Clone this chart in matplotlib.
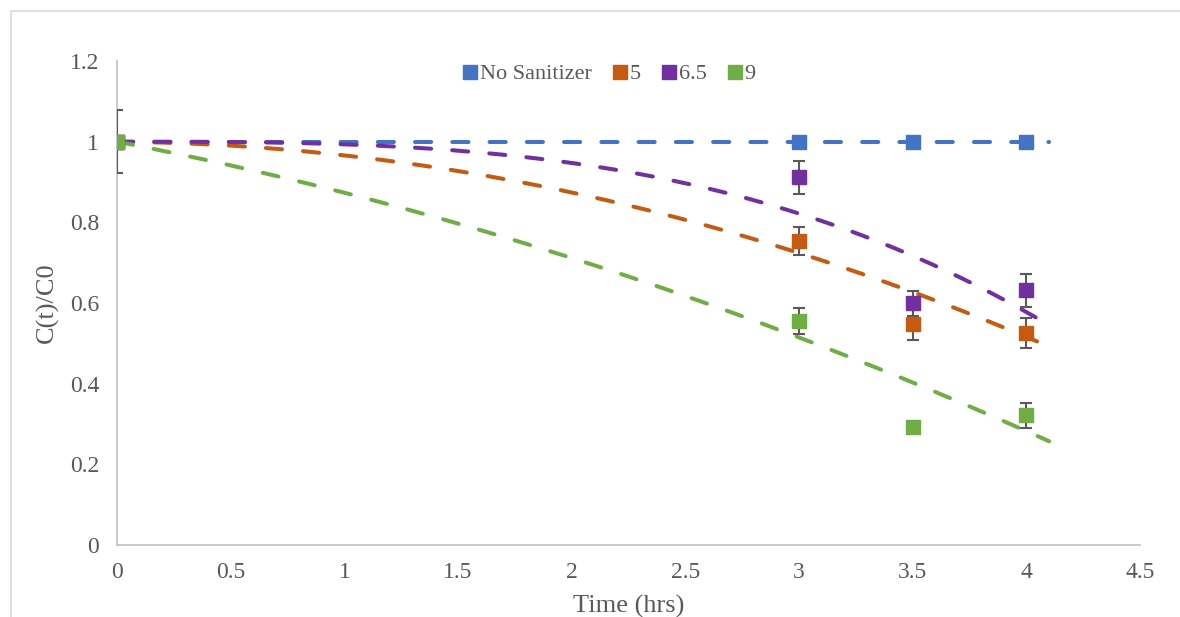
import matplotlib.pyplot as plt
import matplotlib.patches as mpatches
import numpy as np

plt.rcParams['font.family'] = ['Liberation Serif', 'DejaVu Serif']

# data
t = [0, 3, 3.5, 4]
series_names = ['No Sanitizer', '5', '6.5', '9']
no_sanitizer = [1.0, 1.0, 1.0, 1.0]
ph5 = [1.0, 0.754, 0.548, 0.526]
ph65 = [1.0, 0.912, 0.600, 0.632]
ph9 = [1.0, 0.555, 0.293, 0.322]
err_none = [0, 0, 0, 0]
err5 = [0, 0.035, 0.040, 0.038]
err65 = [0.078, 0.041, 0.031, 0.041]
err9 = [0, 0.033, 0, 0.031]

# trendline coefficients (y = 1 + b t + c t^2 + d t^3)
trend_b = [0, -0.005, 0, -0.109]
trend_c = [0, -0.029, 0, -0.0176]
trend_d = [0, 0, -0.0066, 0]

colors = ['#4472C4', '#C55A11', '#7030A0', '#70AD47']
values = [no_sanitizer, ph5, ph65, ph9]
errors = [err_none, err5, err65, err9]

fig = plt.figure(figsize=(11.8, 6.17), dpi=100)
ax = fig.add_axes([0.0992, 0.1167, 0.8669, 0.7844])

# chart border (light gray, cut at right/bottom like the source)
fig.patches.append(mpatches.Rectangle((11 / 1180, -0.1), 1.2, 1 - 11 / 617 + 0.1,
                                      transform=fig.transFigure, fill=False,
                                      edgecolor='#D9D9D9', linewidth=1.2))

tt = np.linspace(0, 4.1, 200)
for i in range(4):
    yy = np.polyval([trend_d[i], trend_c[i], trend_b[i], 1.0], tt)
    ax.plot(tt, yy, color=colors[i], lw=2.9, dashes=(4.0, 5.25),
            dash_capstyle='round', solid_capstyle='round', zorder=2)

for i in range(4):
    e = np.array(errors[i], dtype=float)
    mask = e > 0
    if mask.any():
        ax.errorbar(np.array(t)[mask], np.array(values[i])[mask], yerr=e[mask],
                    fmt='none', ecolor='#595959', elinewidth=1.5, capsize=4.5,
                    capthick=1.5, zorder=3)
    ax.plot(t, values[i], ls='none', marker='s', ms=10.5, color=colors[i],
            mec=colors[i], zorder=4 + i, label=series_names[i])

ax.set_xlim(0, 4.5)
ax.set_ylim(0, 1.2)
ax.set_xticks(np.arange(0, 4.51, 0.5))
ax.set_xticklabels(['0', '0.5', '1', '1.5', '2', '2.5', '3', '3.5', '4', '4.5'])
ax.set_yticks(np.arange(0, 1.21, 0.2))
ax.set_yticklabels(['0', '0.2', '0.4', '0.6', '0.8', '1', '1.2'])
ax.tick_params(length=0, labelsize=17, colors='#595959', pad=12)
ax.tick_params(axis='y', pad=13)
for s in ['top', 'right']:
    ax.spines[s].set_visible(False)
for s in ['left', 'bottom']:
    ax.spines[s].set_color('#BFBFBF')
    ax.spines[s].set_linewidth(1.2)

ax.set_xlabel('Time (hrs)', fontsize=19, color='#595959', labelpad=9)
ax.set_ylabel('C(t)/C0', fontsize=19, color='#595959', labelpad=8)

leg = ax.legend(loc='center', bbox_to_anchor=(0.48, 0.973), ncol=4, frameon=False,
                fontsize=16, handletextpad=0.0, columnspacing=0.8, handlelength=0.9,
                markerscale=0.9, labelcolor='#595959')

fig.savefig('out.png', dpi=100)
